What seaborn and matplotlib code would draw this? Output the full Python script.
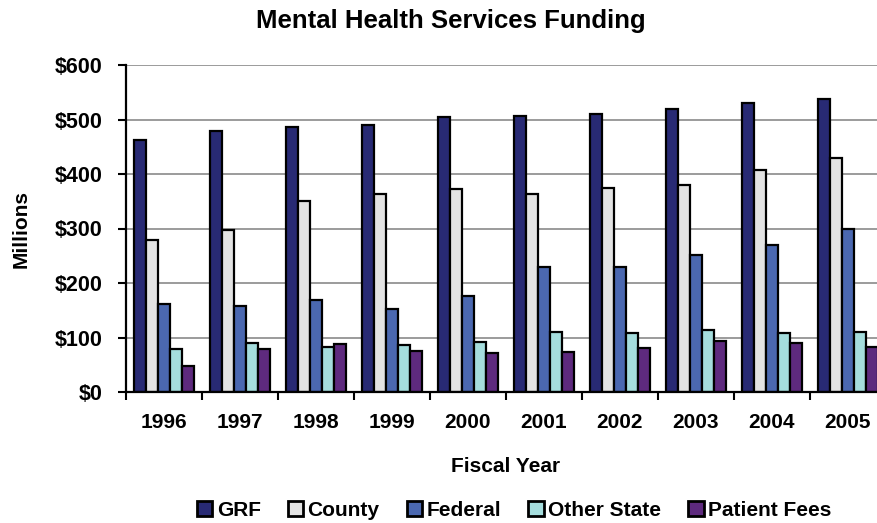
import matplotlib
matplotlib.use("Agg")
import matplotlib.pyplot as plt
import seaborn as sns
import pandas as pd
from matplotlib.patches import Patch
from matplotlib.ticker import FuncFormatter

years = ["1996", "1997", "1998", "1999", "2000", "2001", "2002", "2003", "2004", "2005"]
sources = ["GRF", "County", "Federal", "Other State", "Patient Fees"]
grf = [462, 478, 486, 490, 505, 506, 511, 519, 530, 538]
county = [279, 297, 350, 363, 372, 363, 374, 380, 408, 429]
federal = [161, 158, 169, 153, 177, 229, 229, 251, 270, 300]
other_state = [78, 89, 82, 86, 92, 111, 108, 114, 108, 110]
patient_fees = [48, 79, 88, 75, 71, 73, 81, 94, 89, 82]
colors = ["#282A74", "#E3E3E3", "#4B68B0", "#A5DDDD", "#5E2A7E"]

series = [grf, county, federal, other_state, patient_fees]
df = pd.DataFrame(
    [(y, s, v) for s, vals in zip(sources, series) for y, v in zip(years, vals)],
    columns=["Year", "Source", "Funding"],
)

sns.set_style("white")
plt.rcParams["font.family"] = ["Liberation Sans", "DejaVu Sans"]
plt.rcParams["font.weight"] = "bold"
for key in ["text.color", "axes.labelcolor", "xtick.color", "ytick.color"]:
    plt.rcParams[key] = "black"

fig = plt.figure(figsize=(8.78, 5.23), dpi=100)
ax = fig.add_axes([126 / 878, 131 / 523, 760 / 878, 327 / 523])

sns.barplot(
    data=df, x="Year", y="Funding", hue="Source", order=years, hue_order=sources,
    palette=colors, width=0.79, edgecolor="black", linewidth=1.6, saturation=1,
    legend=False, ax=ax,
)

ax.set_xlim(-0.5, len(years) - 0.5)
ax.set_ylim(0, 600)
ax.set_yticks(range(0, 601, 100))
ax.yaxis.set_major_formatter(FuncFormatter(lambda v, p: f"${int(v)}"))
ax.grid(axis="y", color="#8a8a8a", linewidth=1.2)
ax.set_axisbelow(True)

# category boundary ticks, labels centred between them
ax.set_xticks([i - 0.5 for i in range(len(years) + 1)])
ax.set_xticklabels([])
ax.set_xticks(range(len(years)), minor=True)
ax.set_xticklabels(years, minor=True)
ax.tick_params(axis="x", which="major", direction="out", length=6, width=1.5, color="black")
ax.tick_params(axis="x", which="minor", length=0, pad=15, labelsize=15)
ax.tick_params(axis="y", direction="out", length=6, width=1.5, color="black", pad=11, labelsize=15.5)
ax.yaxis.set_ticks_position("left")
ax.xaxis.set_ticks_position("bottom")

for side in ["top", "right"]:
    ax.spines[side].set_visible(False)
for side in ["left", "bottom"]:
    ax.spines[side].set_color("black")
    ax.spines[side].set_linewidth(1.6)

ax.set_xlabel("Fiscal Year", fontsize=15, fontweight="bold", labelpad=18)
ax.set_ylabel("Millions", fontsize=15, fontweight="bold", labelpad=17)
fig.text(451 / 878, 1 - 21 / 523, "Mental Health Services Funding", ha="center", va="center",
         fontsize=18.5, fontweight="bold")

handles = [Patch(facecolor=c, edgecolor="black", linewidth=2) for c in colors]
fig.legend(handles, sources, loc="center", bbox_to_anchor=(514 / 878, 1 - 510 / 523),
           ncol=5, frameon=False, handlelength=0.75, handleheight=0.75,
           handletextpad=0.2, columnspacing=1.3, prop={"weight": "bold", "size": 15})

fig.savefig("out.png", dpi=100)
